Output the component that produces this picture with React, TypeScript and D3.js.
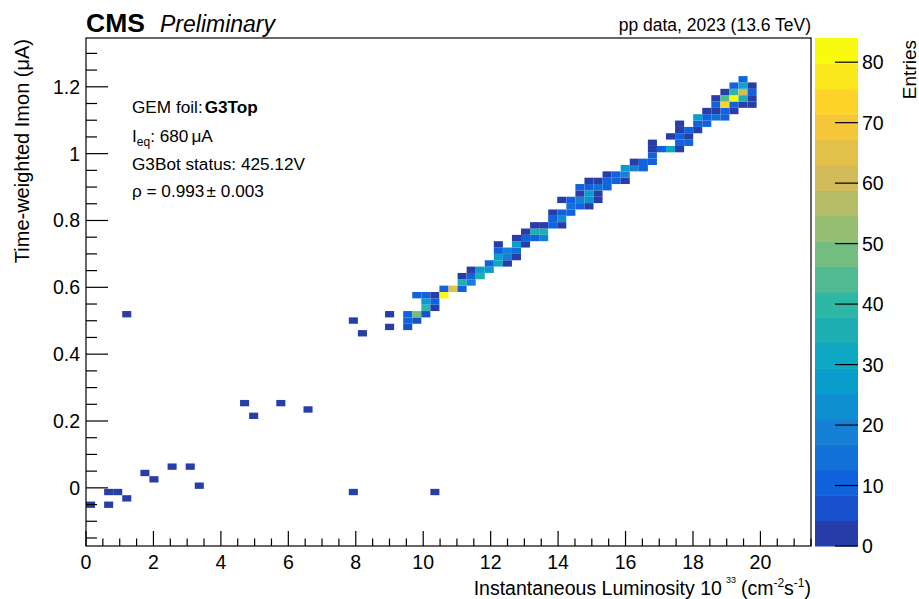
import React from "react";
import * as d3 from "d3";

// ---------- data (bin centres) ----------
const lumi: number[] = [
  // isolated low-current cells
  0.134, 0.672, 0.672, 0.941, 1.209, 1.209, 1.747, 2.016, 2.553, 3.091, 3.359,
  4.703, 4.972, 5.778, 6.584, 7.928, 7.928, 8.197, 9.003, 9.003, 10.347,
  // main band
  9.541,
  9.541, 9.809,
  9.541, 9.809, 10.078,
  10.078, 10.347,
  10.078, 10.347,
  9.809, 10.078, 10.347, 10.616,
  10.616, 10.884, 11.153,
  11.153, 11.422,
  11.153, 11.422, 11.691,
  11.422, 11.691, 11.959,
  11.959, 12.228, 12.497,
  12.228, 12.497, 12.766,
  12.228, 12.497, 12.766,
  12.228, 12.766, 13.034,
  12.766, 13.034, 13.303, 13.572,
  13.034, 13.303, 13.572,
  13.303, 13.572, 13.841, 14.109,
  13.841, 14.109,
  13.841, 14.109, 14.378,
  14.378, 14.647, 14.916,
  14.109, 14.378, 14.647, 14.916, 15.184,
  14.647, 14.916, 15.184,
  14.647, 14.916, 15.184, 15.453,
  14.916, 15.184, 15.453, 15.722, 15.991,
  15.453, 15.722, 15.991,
  15.991, 16.259, 16.528,
  16.259, 16.528, 16.797,
  16.797,
  16.797, 17.066, 17.334, 17.603,
  16.797, 17.603, 17.872,
  17.334, 17.603, 17.872,
  17.603, 17.872, 18.141,
  17.603, 18.141, 18.409,
  18.141, 18.409, 18.678, 18.947,
  18.409, 18.678, 18.947, 19.216,
  18.678, 18.947, 19.216, 19.484, 19.753,
  18.678, 18.947, 19.216, 19.484, 19.753,
  18.947, 19.216, 19.484, 19.753,
  19.216, 19.484, 19.753,
  19.484,
];

const imon: number[] = [
  -0.0505, -0.0505, -0.0125, -0.0125, -0.0315, 0.5195, 0.0445, 0.0255, 0.0635, 0.0635, 0.0065,
  0.2535, 0.2155, 0.2535, 0.2345, 0.5005, -0.0125, 0.4625, 0.5195, 0.4815, -0.0125,
  0.4815,
  0.5005, 0.5005,
  0.5195, 0.5195, 0.5195,
  0.5385, 0.5385,
  0.5575, 0.5575,
  0.5765, 0.5765, 0.5765, 0.5765,
  0.5955, 0.5955, 0.5955,
  0.6145, 0.6145,
  0.6335, 0.6335, 0.6335,
  0.6525, 0.6525, 0.6525,
  0.6715, 0.6715, 0.6715,
  0.6905, 0.6905, 0.6905,
  0.7095, 0.7095, 0.7095,
  0.7285, 0.7285, 0.7285,
  0.7475, 0.7475, 0.7475, 0.7475,
  0.7665, 0.7665, 0.7665,
  0.7855, 0.7855, 0.7855, 0.7855,
  0.8045, 0.8045,
  0.8235, 0.8235, 0.8235,
  0.8425, 0.8425, 0.8425,
  0.8615, 0.8615, 0.8615, 0.8615, 0.8615,
  0.8805, 0.8805, 0.8805,
  0.8995, 0.8995, 0.8995, 0.8995,
  0.9185, 0.9185, 0.9185, 0.9185, 0.9185,
  0.9375, 0.9375, 0.9375,
  0.9565, 0.9565, 0.9565,
  0.9755, 0.9755, 0.9755,
  0.9945,
  1.0135, 1.0135, 1.0135, 1.0135,
  1.0325, 1.0325, 1.0325,
  1.0515, 1.0515, 1.0515,
  1.0705, 1.0705, 1.0705,
  1.0895, 1.0895, 1.0895,
  1.1085, 1.1085, 1.1085, 1.1085,
  1.1275, 1.1275, 1.1275, 1.1275,
  1.1465, 1.1465, 1.1465, 1.1465, 1.1465,
  1.1655, 1.1655, 1.1655, 1.1655, 1.1655,
  1.1845, 1.1845, 1.1845, 1.1845,
  1.2035, 1.2035, 1.2035,
  1.2225,
];

const entries: number[] = [
  2, 2, 2, 2, 2, 2, 2, 2, 2, 2, 2,
  2, 2, 2, 2, 2, 2, 2, 2, 2, 2,
  8,
  10, 8,
  10, 48, 8,
  40, 3,
  28, 10,
  10, 12, 3, 82,
  12, 64, 12,
  34, 18,
  3, 10, 34,
  3, 28, 26,
  12, 32, 3,
  28, 18, 3,
  10, 18, 16,
  2, 26, 3,
  3, 12, 10, 18,
  3, 34, 34,
  3, 3, 12, 3,
  10, 24,
  3, 10, 12,
  16, 10, 3,
  3, 10, 18, 24, 3,
  3, 26, 3,
  10, 10, 16, 10,
  3, 3, 10, 10, 3,
  3, 10, 18,
  26, 18, 12,
  3, 10, 10,
  10,
  3, 10, 30, 3,
  3, 10, 10,
  3, 10, 3,
  3, 10, 3,
  3, 10, 10,
  26, 10, 16, 10,
  3, 3, 10, 3,
  10, 72, 10, 3, 3,
  3, 44, 84, 36, 3,
  3, 40, 62, 10,
  10, 30, 3,
  10,
];

const xTicks = [0, 2, 4, 6, 8, 10, 12, 14, 16, 18, 20];
const yTicks = [0, 0.2, 0.4, 0.6, 0.8, 1, 1.2];
const zTicks = [0, 10, 20, 30, 40, 50, 60, 70, 80];
const legendLines = ["GEM foil:", "G3Top", "680", "G3Bot status: 425.12V", "ρ = 0.993", "0.003"];

// ---------- layout ----------
const W = 919, H = 599;
const L = 86, R = 811, T = 38, B = 546;
const X_MIN = 0, X_MAX = 21.5, NX = 80;
const Y_MIN = -0.174, Y_MAX = 1.346, NY = 80;
const Z_MAX = 84, NLEVELS = 20;
const CB_L = 815, CB_R = 858;
const FONT = "'Liberation Sans', Arial, Helvetica, sans-serif";

// ROOT kBird palette
const birdStops = [0, 0.125, 0.25, 0.375, 0.5, 0.625, 0.75, 0.875, 1];
const birdR = [0.2082, 0.0592, 0.078, 0.0232, 0.1802, 0.5301, 0.8186, 0.9956, 0.9764];
const birdG = [0.1664, 0.3599, 0.5041, 0.6419, 0.7178, 0.7492, 0.7328, 0.7862, 0.9832];
const birdB = [0.5293, 0.8684, 0.8385, 0.7914, 0.6425, 0.4662, 0.3499, 0.1968, 0.0539];
const bird = d3
  .scaleLinear<string>()
  .domain(birdStops)
  .range(birdStops.map((_, i) => d3.rgb(birdR[i] * 255, birdG[i] * 255, birdB[i] * 255).toString()))
  .interpolate(d3.interpolateRgb)
  .clamp(true);

const levelColor = (lvl: number) => {
  const idx = Math.floor(((lvl + 0.99) * 255) / NLEVELS);
  return bird(Math.min(idx, 254) / 254);
};
const countColor = (c: number) => {
  const lvl = Math.max(0, Math.min(NLEVELS - 1, Math.floor((c / Z_MAX) * NLEVELS)));
  return levelColor(lvl);
};

export default function App() {
  const x = d3.scaleLinear().domain([X_MIN, X_MAX]).range([L, R]);
  const y = d3.scaleLinear().domain([Y_MIN, Y_MAX]).range([B, T]);
  const z = d3.scaleLinear().domain([0, Z_MAX]).range([B, T]);
  const bwx = (X_MAX - X_MIN) / NX;
  const bwy = (Y_MAX - Y_MIN) / NY;

  const cells = lumi.map((lv, i) => {
    const ix = Math.floor((lv - X_MIN) / bwx);
    const iy = Math.floor((imon[i] - Y_MIN) / bwy);
    const x0 = x(X_MIN + ix * bwx);
    const x1 = x(X_MIN + (ix + 1) * bwx);
    const y0 = y(Y_MIN + (iy + 1) * bwy);
    const y1 = y(Y_MIN + iy * bwy);
    return { x0, y0, w: x1 - x0, h: y1 - y0, c: entries[i] };
  });

  const xMinor = d3.range(X_MIN, X_MAX + 1e-9, 0.5);
  const yMinor = d3.range(-0.15, Y_MAX + 1e-9, 0.05);
  const zBands = d3.range(NLEVELS);

  const tickFont = 19.5;
  const legFont = 17.2;

  return (
    <svg
      width={W}
      height={H}
      viewBox={`0 0 ${W} ${H}`}
      style={{ position: "absolute", left: 0, top: 0, display: "block", background: "#fff" }}
      fontFamily={FONT}
    >
      <rect x={0} y={0} width={W} height={H} fill="#fff" />

      {/* cells */}
      {cells.map((d, i) => (
        <rect key={i} x={d.x0} y={d.y0} width={d.w} height={d.h} fill={countColor(d.c)} />
      ))}

      {/* frame */}
      <rect x={L} y={T} width={R - L} height={B - T} fill="none" stroke="#000" strokeWidth={1.2} />

      {/* x axis ticks */}
      {xMinor.map((v, i) => {
        const major = Math.abs(v / 2 - Math.round(v / 2)) < 1e-6;
        return (
          <line key={"xm" + i} x1={x(v)} x2={x(v)} y1={B} y2={B - (major ? 15 : 7.5)} stroke="#000" strokeWidth={1.2} />
        );
      })}
      {xTicks.map((v) => (
        <text key={"xt" + v} x={x(v)} y={569} fontSize={tickFont} textAnchor="middle" fill="#000">
          {v}
        </text>
      ))}

      {/* y axis ticks */}
      {yMinor.map((v, i) => {
        const major = Math.abs(v / 0.2 - Math.round(v / 0.2)) < 1e-6;
        return (
          <line key={"ym" + i} x1={L} x2={L + (major ? 22 : 11)} y1={y(v)} y2={y(v)} stroke="#000" strokeWidth={1.2} />
        );
      })}
      {yTicks.map((v) => (
        <text key={"yt" + v} x={80} y={y(v) + 7} fontSize={tickFont} textAnchor="end" fill="#000">
          {v}
        </text>
      ))}

      {/* axis titles */}
      <text x={R} y={595} fontSize={19.5} textAnchor="end" fill="#000">
        Instantaneous Luminosity 10
        <tspan fontSize={9} dx={4} dy={-12}>33</tspan>
        <tspan dx={5} dy={12}>{"(cm"}</tspan>
        <tspan fontSize={12} dy={-8}>-2</tspan>
        <tspan dy={8}>s</tspan>
        <tspan fontSize={12} dy={-8}>-1</tspan>
        <tspan dy={8}>)</tspan>
      </text>
      <text transform={`translate(29, ${T + 1}) rotate(-90)`} fontSize={20} textAnchor="end" fill="#000">
        Time-weighted Imon (μA)
      </text>

      {/* header */}
      <text x={86} y={32} fontSize={26.5} fontWeight="bold" fill="#000">CMS</text>
      <text x={160} y={32} fontSize={23} fontStyle="italic" fill="#000">Preliminary</text>
      <text x={R} y={31} fontSize={17.5} textAnchor="end" fill="#000">pp data, 2023 (13.6 TeV)</text>

      {/* legend text */}
      <text x={132} y={113} fontSize={legFont} fill="#000">
        {legendLines[0]}
        <tspan dx={2} fontWeight="bold">{legendLines[1]}</tspan>
      </text>
      <text x={132} y={142} fontSize={legFont} fill="#000">
        I<tspan fontSize={12} dy={4}>eq</tspan>
        <tspan dy={-4}>: {legendLines[2]}</tspan>
        <tspan dx={3}>μA</tspan>
      </text>
      <text x={132} y={170} fontSize={legFont} fill="#000">{legendLines[3]}</text>
      <text x={132} y={197} fontSize={legFont} fill="#000">
        {legendLines[4]}
        <tspan dx={2}>±</tspan>
        <tspan dx={5}>{legendLines[5]}</tspan>
      </text>

      {/* colour bar */}
      {zBands.map((lvl) => {
        const v0 = (lvl * Z_MAX) / NLEVELS;
        const v1 = ((lvl + 1) * Z_MAX) / NLEVELS;
        return (
          <rect
            key={"cb" + lvl}
            x={CB_L}
            y={z(v1)}
            width={CB_R - CB_L}
            height={z(v0) - z(v1) + 0.5}
            fill={levelColor(lvl)}
          />
        );
      })}
      {zTicks.map((v) => (
        <g key={"zt" + v}>
          <line x1={CB_R - 23} x2={CB_R} y1={z(v)} y2={z(v)} stroke="#000" strokeWidth={1.2} />
          <text x={CB_R + 4} y={z(v) + 7} fontSize={tickFont} fill="#000">
            {v}
          </text>
        </g>
      ))}
      <text transform={`translate(916, ${T + 2}) rotate(-90)`} fontSize={19} textAnchor="end" fill="#000">
        Entries
      </text>
    </svg>
  );
}
